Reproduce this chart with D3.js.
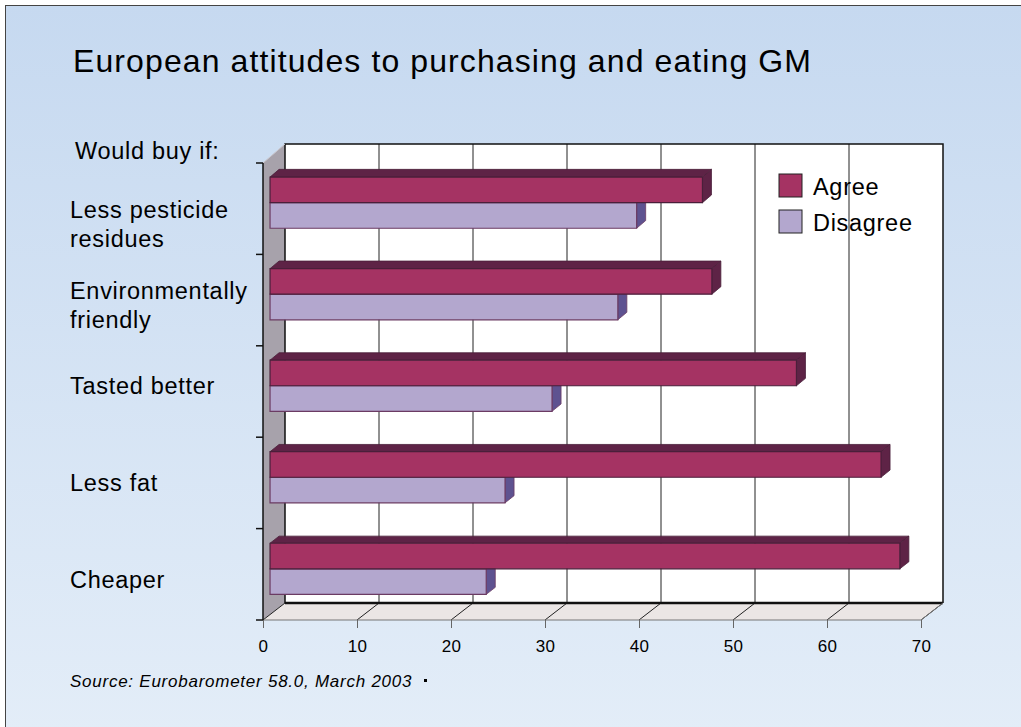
<!DOCTYPE html>
<html lang="en">
<head>
<meta charset="UTF-8">
<title>European attitudes to purchasing and eating GM</title>
<script src="https://d3js.org/d3.v7.min.js"></script>
<style>
  body { margin: 0; background: #fff; }
  text { font-family: "Liberation Sans", Arial, sans-serif; fill: #000; }
</style>
</head>
<body>
<div id="chart"></div>
<script>
// data
var categories = ["Less pesticide residues", "Environmentally friendly", "Tasted better", "Less fat", "Cheaper"];
var categoryLines = [["Less pesticide", "residues"], ["Environmentally", "friendly"], ["Tasted better"], ["Less fat"], ["Cheaper"]];
var series = ["Agree", "Disagree"];
var agree = [46, 47, 56, 65, 67];
var disagree = [39, 37, 30, 25, 23];
var xTicks = [0, 10, 20, 30, 40, 50, 60, 70];

var W = 1021, H = 727;
var colors = {
  Agree: { front: "#a53363", top: "#5e2346", side: "#5e2346", stroke: "#4a1f3a" },
  Disagree: { front: "#b3a7ce", top: "#8a7db4", side: "#5e5290", stroke: "#6b3b63" }
};
// label baseline offsets inside each category band
var labelOffset = [55, 44.5, 48, 53.6, 59.2];

var svg = d3.select("#chart").append("svg")
  .attr("width", W).attr("height", H);

var defs = svg.append("defs");
var grad = defs.append("linearGradient").attr("id", "bg")
  .attr("x1", 0).attr("y1", 0).attr("x2", 0).attr("y2", 1);
grad.append("stop").attr("offset", "0%").attr("stop-color", "#c6d9f0");
grad.append("stop").attr("offset", "100%").attr("stop-color", "#e3edf8");

svg.append("rect").attr("x", 5.5).attr("y", 5.5).attr("width", W).attr("height", H)
  .attr("fill", "url(#bg)").attr("stroke", "#444").attr("stroke-width", 1);

// 3d geometry: front plane and depth offset (slight perspective top to bottom)
var depthX = 22, depthYTop = -19, depthYBot = -17;
var x = d3.scaleLinear().domain([0, 70]).range([263, 921]);
var y = d3.scaleBand().domain(categories).range([163, 620]);
var ySub = d3.scaleBand().domain(series).range([0, y.bandwidth()]).paddingOuter(0.79);
var depthY = d3.scaleLinear().domain(y.range()).range([depthYTop, depthYBot]);

function pt(px, py, d) { return [px + d * depthX, py + d * depthY(py)]; }
function poly(pts) { return pts.map(function (p) { return p.join(","); }).join(" "); }

var yTop = y.range()[0], yBot = y.range()[1];
var x0 = x(0), x1 = x(70);

// back wall
svg.append("polygon")
  .attr("points", poly([pt(x0, yTop, 1), pt(x1, yTop, 1), pt(x1, yBot, 1), pt(x0, yBot, 1)]))
  .attr("fill", "#fff");
// left wall
svg.append("polygon")
  .attr("points", poly([pt(x0, yTop, 0), pt(x0, yTop, 1), pt(x0, yBot, 1), pt(x0, yBot, 0)]))
  .attr("fill", "#a7a2ab");
// floor
svg.append("polygon")
  .attr("points", poly([pt(x0, yBot, 0), pt(x1, yBot, 0), pt(x1, yBot, 1), pt(x0, yBot, 1)]))
  .attr("fill", "#ebe6e5");

// gridlines on back wall and floor
xTicks.forEach(function (t) {
  var a = pt(x(t), yTop, 1), b = pt(x(t), yBot, 1), c = pt(x(t), yBot, 0);
  if (t > 0 && t < 70) {
    svg.append("line").attr("x1", a[0]).attr("y1", a[1]).attr("x2", b[0]).attr("y2", b[1])
      .attr("stroke", "#222").attr("stroke-width", 1);
  }
  svg.append("line").attr("x1", b[0]).attr("y1", b[1]).attr("x2", c[0]).attr("y2", c[1])
    .attr("stroke", "#222").attr("stroke-width", 1);
});

// back wall frame
var bw = [pt(x0, yBot, 1), pt(x0, yTop, 1), pt(x1, yTop, 1), pt(x1, yBot, 1)];
svg.append("polyline").attr("points", poly(bw))
  .attr("fill", "none").attr("stroke", "#111").attr("stroke-width", 1.5);
svg.append("line")
  .attr("x1", pt(x0, yBot, 1)[0]).attr("y1", pt(x0, yBot, 1)[1])
  .attr("x2", pt(x1, yBot, 1)[0]).attr("y2", pt(x1, yBot, 1)[1])
  .attr("stroke", "#111").attr("stroke-width", 2.5);
// floor front & right edges
svg.append("polyline")
  .attr("points", poly([pt(x0, yBot, 0), pt(x1, yBot, 0), pt(x1, yBot, 1)]))
  .attr("fill", "none").attr("stroke", "#777").attr("stroke-width", 1);
// left wall top edge
svg.append("line")
  .attr("x1", pt(x0, yTop, 0)[0]).attr("y1", pt(x0, yTop, 0)[1])
  .attr("x2", pt(x0, yTop, 1)[0]).attr("y2", pt(x0, yTop, 1)[1])
  .attr("stroke", "#c9c6cc").attr("stroke-width", 1);

// x axis ticks + labels
var xAxis = svg.append("g").attr("transform", "translate(0," + yBot + ")")
  .call(d3.axisBottom(x).tickValues(xTicks).tickSize(8).tickPadding(12));
xAxis.select(".domain").remove();
xAxis.selectAll(".tick line").attr("stroke", "#666");
xAxis.selectAll(".tick text").style("font-size", "17px").style("letter-spacing", "0.4px")
  .style("font-family", "'Liberation Sans', Arial, sans-serif");

// left axis
var yTicks = y.domain().map(function (c) { return y(c); }).concat([yBot]);
svg.append("line").attr("x1", x0).attr("y1", yTop).attr("x2", x0).attr("y2", yBot)
  .attr("stroke", "#111").attr("stroke-width", 1.5);
yTicks.forEach(function (v) {
  svg.append("line").attr("x1", x0 - 7).attr("y1", v).attr("x2", x0).attr("y2", v)
    .attr("stroke", "#111").attr("stroke-width", 1.5);
});

// bars
var d1 = 0.32, d2 = 0.73;
var values = { Agree: agree, Disagree: disagree };
var barsG = svg.append("g");
categories.forEach(function (cat, i) {
  ["Disagree", "Agree"].forEach(function (s) {
    var v = values[s][i];
    var yt = y(cat) + ySub(s), yb = yt + ySub.bandwidth();
    var xl = x(0), xr = x(v);
    var c = colors[s];
    var g = barsG.append("g");
    // top face
    g.append("polygon")
      .attr("points", poly([pt(xl, yt, d1), pt(xr, yt, d1), pt(xr, yt, d2), pt(xl, yt, d2)]))
      .attr("fill", c.top).attr("stroke", c.stroke).attr("stroke-width", 0.8);
    // side face
    g.append("polygon")
      .attr("points", poly([pt(xr, yt, d1), pt(xr, yt, d2), pt(xr, yb, d2), pt(xr, yb, d1)]))
      .attr("fill", c.side).attr("stroke", c.stroke).attr("stroke-width", 0.8);
    // front face
    g.append("polygon")
      .attr("points", poly([pt(xl, yt, d1), pt(xr, yt, d1), pt(xr, yb, d1), pt(xl, yb, d1)]))
      .attr("fill", c.front).attr("stroke", c.stroke).attr("stroke-width", 1.2);
  });
});

// category labels
var labelG = svg.append("g");
categories.forEach(function (cat, i) {
  var t = labelG.append("text").attr("x", 70).attr("y", y(cat) + labelOffset[i])
    .style("font-size", "23.5px").style("letter-spacing", "0.7px");
  categoryLines[i].forEach(function (l, k) {
    t.append("tspan").attr("x", 70).attr("dy", k === 0 ? 0 : 29).text(l);
  });
});

// legend
var legend = svg.append("g").attr("transform", "translate(779,174)");
series.forEach(function (s, k) {
  var row = legend.append("g").attr("transform", "translate(0," + (k * 36) + ")");
  row.append("rect").attr("width", 23).attr("height", 23)
    .attr("fill", colors[s].front).attr("stroke", "#222").attr("stroke-width", 1);
  row.append("text").attr("x", 34).attr("y", 21).style("font-size", "23.5px")
    .style("letter-spacing", "0.7px").text(s);
});

// titles & notes
svg.append("text").attr("x", 73).attr("y", 72).style("font-size", "32px")
  .style("letter-spacing", "1.1px")
  .text("European attitudes to purchasing and eating GM");
svg.append("text").attr("x", 75).attr("y", 159).style("font-size", "23.5px")
  .style("letter-spacing", "0.7px").text("Would buy if:");
svg.append("text").attr("x", 70).attr("y", 687).style("font-size", "17px")
  .style("font-style", "italic").style("letter-spacing", "0.75px")
  .text("Source: Eurobarometer 58.0, March 2003");
svg.append("rect").attr("x", 424).attr("y", 679).attr("width", 3).attr("height", 3).attr("fill", "#000");
</script>
</body>
</html>
